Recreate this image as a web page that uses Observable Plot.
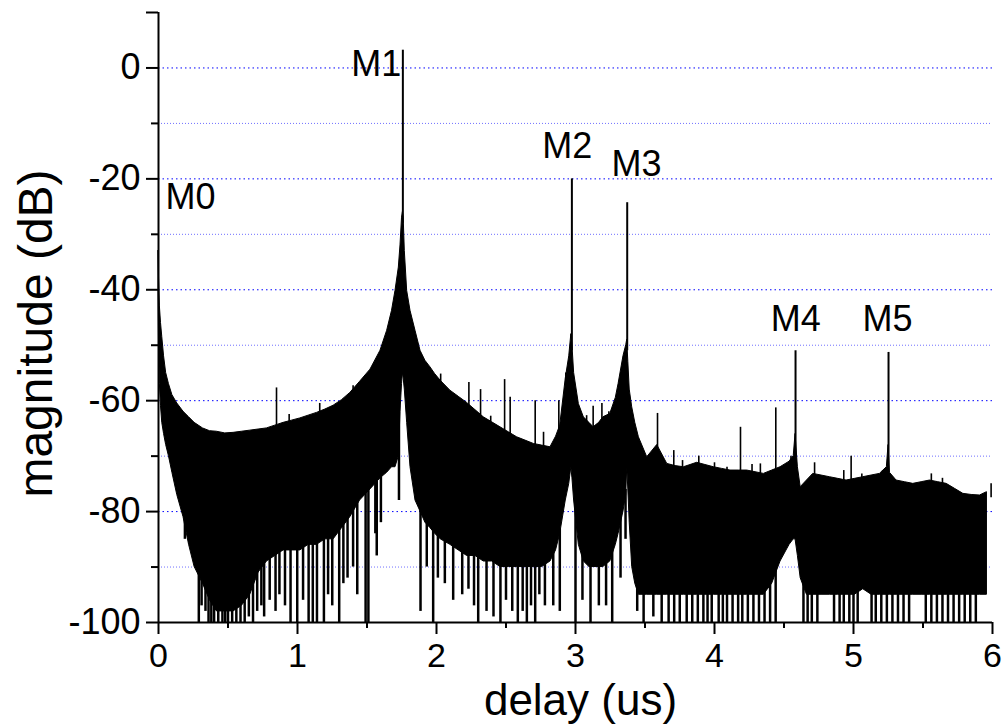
<!DOCTYPE html>
<html><head><meta charset="utf-8">
<script src="https://cdn.jsdelivr.net/npm/d3@7"></script>
<script src="https://cdn.jsdelivr.net/npm/@observablehq/plot@0.6"></script>
<style>body{margin:0;background:#fff}</style>
</head><body><div id="chart"></div>
<script>
// Noise band: delay (us), upper envelope (dB), lower solid edge (dB)
const bandX = [0,0.004,0.010,0.018,0.027,0.040,0.055,0.075,0.10,0.135,0.18,0.22,0.26,0.32,0.37,0.42,0.48,0.54,0.60,0.66,0.72,0.78,0.84,0.90,0.96,1.02,1.08,1.14,1.20,1.26,1.32,1.38,1.45,1.525,1.597,1.645,1.68,1.705,1.729,1.741,1.752,1.758,1.764,1.772,1.789,1.813,1.849,1.885,1.92,1.957,1.99,2.03,2.10,2.16,2.22,2.28,2.34,2.40,2.46,2.52,2.58,2.64,2.70,2.76,2.82,2.86,2.89,2.93,2.955,2.97,2.978,2.99,3.024,3.06,3.10,3.13,3.17,3.20,3.25,3.29,3.31,3.345,3.365,3.372,3.38,3.39,3.408,3.43,3.456,3.516,3.588,3.66,3.72,3.78,3.875,3.935,3.995,4.055,4.115,4.175,4.235,4.295,4.355,4.415,4.475,4.54,4.57,4.583,4.60,4.62,4.665,4.71,4.77,4.83,4.89,4.95,5.01,5.07,5.13,5.19,5.24,5.252,5.262,5.31,5.37,5.43,5.49,5.55,5.61,5.67,5.73,5.79,5.85,5.91,5.96,6.0];
const bandHi = [-33,-38,-43,-46,-48.5,-52,-55,-57,-59,-60.5,-62,-63,-64,-65,-65.5,-65.6,-65.9,-65.8,-65.6,-65.4,-65.2,-65,-64.5,-64,-63.6,-63.2,-62.7,-62.2,-61.6,-60.9,-59.9,-58.6,-56.6,-54.4,-51,-47.4,-43.8,-40.2,-36,-32,-27,-26,-27,-33,-40.2,-43.8,-47.4,-51,-52.8,-54,-55.2,-56.4,-58.2,-59.3,-60.4,-61.7,-63,-63.9,-64.8,-65.7,-66.6,-67.2,-67.8,-68.1,-68.4,-66.5,-64.5,-56,-52,-48,-50,-55,-60.6,-63,-64,-64.8,-64,-63,-62.4,-59.5,-57,-52,-50,-49,-53,-58,-61.2,-64,-66.6,-70.2,-68,-71.4,-71.8,-72,-71.2,-71.6,-72,-72.3,-72.6,-72.6,-72.6,-72.9,-73.2,-72.6,-72,-71,-70,-66,-72,-75.6,-74.4,-73.2,-73.5,-73.8,-74.1,-74.4,-74.1,-73.8,-73.5,-73.2,-72,-68,-73,-74.4,-74.7,-75,-74.7,-74.4,-74.7,-75,-75.9,-76.8,-77,-77.1,-76.5,-75.6];
const bandLo = [-40,-50,-57,-61,-64,-66,-68,-70,-73,-77,-81,-86,-90,-93,-96,-98,-98,-98,-97,-95,-91,-89,-88,-87,-87,-87,-86,-86,-85,-85,-83,-81,-78,-76,-74,-73,-72,-72,-70,-62,-57,-55,-56,-58,-64,-72,-78,-80,-82,-83,-84,-85,-86,-87,-88,-88,-89,-89,-90,-90,-90,-90,-90,-90,-89,-87,-84,-78,-75,-72,-74,-78,-86,-89,-90,-90,-90,-90,-89,-86,-84,-80,-77,-72,-76,-82,-90,-93,-95,-95,-95,-95,-95,-95,-95,-95,-95,-95,-95,-95,-95,-95,-95,-93,-89,-86,-85,-85,-88,-92,-95,-95,-95,-95,-95,-95,-95,-94,-95,-95,-95,-95,-95,-95,-95,-95,-95,-95,-95,-95,-95,-95,-95,-95,-95];

// Upward spikes (peaks and fuzz on the upper edge): delay, top (dB)
const spikeX   = [1.758, 2.974, 3.372, 4.583, 5.252, 0.849, 0.94, 1.16, 1.40, 2.03, 2.15, 2.233, 2.317, 2.39, 2.49, 2.53, 2.71, 2.77, 2.88, 2.93, 3.08, 3.127, 3.19, 3.24, 3.59, 3.707, 3.77, 3.887, 4.0, 4.09, 4.187, 4.27, 4.33, 4.441, 4.55, 4.72, 4.93, 4.983, 5.06, 5.21, 5.56, 5.64, 5.99];
const spikeTop = [3.2, -20, -24.3, -51, -51.3, -57.7, -62.5, -60.5, -57.3, -55.2, -60, -56.7, -58, -62.8, -56.2, -59.4, -60, -65.7, -60, -55, -62.7, -61, -60.5, -62, -62.3, -69, -70.8, -70, -71.2, -72, -64.8, -71.5, -71.4, -61.3, -70, -71.2, -72.6, -70, -73.2, -72.6, -73.2, -74, -75];

// Downward spikes: delay, minimum (dB)
const dipX = [0.19,0.225,0.29,0.31,0.338,0.36,0.38,0.40,0.43,0.46,0.48,0.50,0.53,0.56,0.59,0.62,0.65,0.68,0.71,0.74,0.76,0.80,0.842,0.87,0.91,0.95,0.998,1.04,1.08,1.11,1.14,1.19,1.22,1.25,1.30,1.33,1.36,1.40,1.43,1.49,1.51,1.56,1.57,1.60,1.73,1.885,1.93,1.976,2.01,2.06,2.12,2.185,2.23,2.27,2.30,2.36,2.41,2.46,2.50,2.545,2.585,2.62,2.65,2.68,2.71,2.74,2.78,2.84,2.887,3.0,3.05,3.108,3.168,3.22,3.264,3.324,3.36,3.444,3.49,3.56,3.62,3.67,3.71,3.75,3.80,3.84,3.88,3.92,3.95,3.98,4.03,4.06,4.09,4.13,4.17,4.20,4.24,4.28,4.32,4.36,4.40,4.44,4.64,4.67,4.70,4.74,4.86,4.90,4.93,4.97,5.00,5.03,5.13,5.16,5.20,5.24,5.28,5.32,5.36,5.40,5.52,5.56,5.60,5.64,5.68,5.72,5.76,5.80,5.84,5.88,5.92,5.96];
const dipMin = [-85,-86,-100,-97,-98,-100,-100,-100,-100,-100,-100,-100,-100,-100,-100,-100,-99,-100,-98,-97,-99,-96,-98,-95,-97,-100,-100,-96,-100,-100,-100,-100,-95,-97,-100,-93,-92,-90,-95,-100,-100,-84,-88,-82,-78,-98,-90,-100,-92,-93,-96,-95,-94,-97,-100,-98,-99,-100,-96,-98,-100,-98,-100,-97,-100,-95,-97,-97,-98,-100,-96,-100,-97,-97,-100,-92,-85,-98,-100,-99,-100,-100,-100,-100,-100,-100,-100,-100,-100,-100,-100,-100,-100,-100,-100,-100,-100,-100,-100,-100,-100,-100,-100,-100,-100,-100,-100,-100,-100,-100,-100,-100,-100,-100,-100,-100,-100,-100,-100,-100,-100,-100,-100,-100,-100,-100,-100,-100,-100,-100];

// Peak labels
const labelText = ["M0","M1","M2","M3","M4","M5"];
const labelX = [0.230, 1.566, 2.940, 3.439, 4.585, 5.245];
const labelY = [-20.9, 3.2, -11.7, -14.8, -42.9, -42.9];

// Axis ticks
const xMajor = [0,1,2,3,4,5,6];
const xMinor = [0.5,1.5,2.5,3.5,4.5,5.5];
const yLabeled = [0,-20,-40,-60,-80,-100];
const yMajorOnly = [10];
const yMinor = [-10,-30,-50,-70,-90];
const gridMajor = [0,-20,-40,-60,-80];
const gridMinor = [-10,-30,-50,-70,-90];

const band = bandX.map((x, i) => ({x, hi: bandHi[i], lo: bandLo[i]}));
function nb(x) {
  const i = d3.bisectLeft(bandX, x);
  return [Math.max(0, i - 1), Math.min(bandX.length - 1, i)];
}
const spikes = spikeX.map((x, i) => {
  const [a, b] = nb(x);
  return {x, top: spikeTop[i], base: Math.min(bandHi[a], bandHi[b]) - 1, w: i < 5 ? 2 : 1.6};
});
const dips = dipX.map((x, i) => {
  const [a, b] = nb(x);
  return {x, bottom: dipMin[i], top: Math.max(bandLo[a], bandLo[b]) + 1};
});
const labels = labelText.map((t, i) => ({t, x: labelX[i], y: labelY[i]}));

const chart = Plot.plot({
  width: 1003,
  height: 724,
  marginLeft: 158,
  marginRight: 11,
  marginTop: 12,
  marginBottom: 102,
  style: {fontFamily: "'Liberation Sans', Arial, sans-serif", background: "white", color: "black"},
  x: {domain: [0, 6]},
  y: {domain: [-100, 10]},
  marks: [
    Plot.ruleY(gridMinor, {stroke: "#6f6fff", strokeDasharray: "1,2", strokeWidth: 1}),
    Plot.ruleY(gridMajor, {stroke: "#0000ff", strokeDasharray: "1.5,3", strokeWidth: 1}),
    Plot.areaY(band, {x: "x", y1: "lo", y2: "hi", fill: "black", stroke: "black", strokeWidth: 1, curve: "linear"}),
    Plot.ruleX(dips, {x: "x", y1: "bottom", y2: "top", stroke: "black", strokeWidth: 2.5}),
    Plot.ruleX(spikes, {x: "x", y1: "base", y2: "top", stroke: "black", strokeWidth: d => d.w}),
    Plot.text(labels, {x: "x", y: "y", text: "t", fontSize: 36, lineAnchor: "top", textAnchor: "middle", fill: "black"}),
    Plot.ruleX([0], {y1: -100, y2: 10, stroke: "black", strokeWidth: 2}),
    Plot.ruleY([-100], {stroke: "black", strokeWidth: 2}),
    Plot.axisX({ticks: xMajor, tickSize: 12, tickPadding: 8, fontSize: 34, strokeWidth: 2, label: null, tickFormat: d => String(d)}),
    Plot.axisX({ticks: xMinor, tickSize: 6, strokeWidth: 2, label: null, tickFormat: () => ""}),
    Plot.axisY({ticks: yLabeled, tickSize: 12, tickPadding: 6, fontSize: 36, strokeWidth: 2, label: null, tickFormat: d => String(d)}),
    Plot.axisY({ticks: yMajorOnly, tickSize: 12, strokeWidth: 2, label: null, tickFormat: () => ""}),
    Plot.axisY({ticks: yMinor, tickSize: 7, strokeWidth: 2, label: null, tickFormat: () => ""}),
    Plot.text(["delay (us)"], {frameAnchor: "bottom", dx: 5, dy: 61, lineAnchor: "top", textAnchor: "middle", fontSize: 44, fill: "black"}),
    Plot.text(["magnitude (dB)"], {frameAnchor: "left", dx: -141, dy: 16, rotate: -90, lineAnchor: "top", textAnchor: "middle", fontSize: 48, fill: "black"})
  ]
});
document.getElementById("chart").appendChild(chart);
</script>
</body></html>
